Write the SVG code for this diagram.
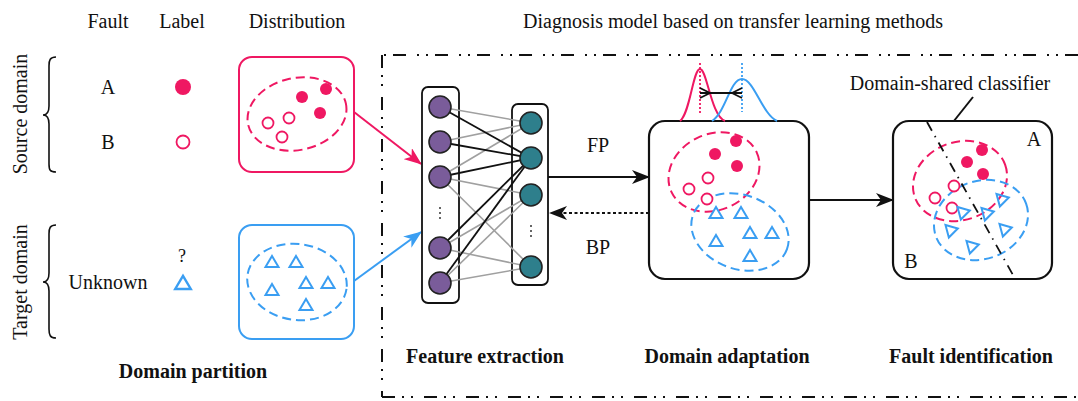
<svg xmlns="http://www.w3.org/2000/svg" width="1078" height="401" viewBox="0 0 1078 401">
<style>
text{font-family:"Liberation Serif","Times New Roman",serif;fill:#111;}
.t{font-size:20px;text-anchor:middle;}
.b{font-size:20px;font-weight:bold;text-anchor:middle;}
.pk{stroke:#ef1862;}
.bl{stroke:#3a9ef2;}
.dash{fill:none;stroke-width:2;stroke-dasharray:9 5;}
.pf{fill:#ef1862;}
.ph{fill:#fff;stroke:#ef1862;stroke-width:1.8;}
.tri{fill:none;stroke:#3a9ef2;stroke-width:2;stroke-linejoin:miter;}
.box{fill:#fff;stroke:#111;stroke-width:2.2;}
.border{fill:none;stroke:#111;stroke-width:2;stroke-dasharray:13 7 2 7 2 11;}
.pu{fill:#7a5c9a;stroke:#222;stroke-width:1.6;}
.te{fill:#2e7f8c;stroke:#222;stroke-width:1.6;}
.gl{stroke:#a0a0a0;stroke-width:1.6;}
.kl{stroke:#111;stroke-width:1.8;}
</style>
<defs>
<marker id="ak" markerUnits="userSpaceOnUse" markerWidth="18" markerHeight="14" refX="17" refY="7" orient="auto"><path d="M0,0 L18,7 L0,14 L5,7 Z" fill="#111"/></marker>
<marker id="ap" markerUnits="userSpaceOnUse" markerWidth="18" markerHeight="14" refX="17" refY="7" orient="auto"><path d="M0,0 L18,7 L0,14 L5,7 Z" fill="#ef1862"/></marker>
<marker id="ab" markerUnits="userSpaceOnUse" markerWidth="18" markerHeight="14" refX="17" refY="7" orient="auto"><path d="M0,0 L18,7 L0,14 L5,7 Z" fill="#3a9ef2"/></marker>
<path id="tr" d="M0,-6 L6.5,5 L-6.5,5 Z"/>
</defs>

<!-- border of model region -->
<g id="model-frame">
<line class="border" x1="1078" y1="55" x2="382" y2="55"/>
<line class="border" x1="382" y1="55" x2="382" y2="397"/>
<line class="border" x1="382" y1="397" x2="1078" y2="397"/>
<text class="t" x="733" y="28">Diagnosis model based on transfer learning methods</text>
</g>

<!-- headers -->
<g id="headers">
<text class="t" x="108" y="28">Fault</text>
<text class="t" x="182" y="28">Label</text>
<text class="t" x="297" y="28">Distribution</text>
</g>

<!-- source domain -->
<g id="source-domain">
<text class="t" transform="translate(27,114) rotate(-90)">Source domain</text>
<path d="M56,57 C50,57 49,60 49,66 L49,106 C49,112 47,115 43,115 C47,115 49,118 49,124 L49,164 C49,170 50,172 56,172" fill="none" stroke="#111" stroke-width="1.6"/>
<text class="t" x="108" y="94">A</text>
<text class="t" x="108" y="149">B</text>
<circle class="pf" cx="183" cy="87" r="8"/>
<circle class="ph" cx="183" cy="142" r="6.5" stroke-width="2"/>
</g>

<g id="source-distribution">
<rect x="239" y="57" width="115" height="115" rx="13" fill="#fff" stroke="#ef1862" stroke-width="2"/>
<ellipse class="dash pk" cx="297" cy="114" rx="50" ry="36" transform="rotate(-12 297 114)"/>
<circle class="pf" cx="302" cy="97" r="6"/>
<circle class="pf" cx="326" cy="89" r="6"/>
<circle class="pf" cx="320" cy="113" r="6"/>
<circle class="ph" cx="268" cy="123" r="5.5"/>
<circle class="ph" cx="289" cy="118" r="5.5"/>
<circle class="ph" cx="282" cy="137" r="5.5"/>
</g>

<!-- target domain -->
<g id="target-domain">
<text class="t" transform="translate(27,282) rotate(-90)">Target domain</text>
<path d="M56,225 C50,225 49,228 49,234 L49,273 C49,279 47,282 43,282 C47,282 49,285 49,291 L49,329 C49,335 50,338 56,338" fill="none" stroke="#111" stroke-width="1.6"/>
<text class="t" x="108" y="289">Unknown</text>
<text class="t" x="182" y="262" style="font-size:18px">?</text>
<use href="#tr" class="tri" transform="translate(183,283) scale(1.2)"/>
</g>

<g id="target-distribution">
<rect x="239" y="225" width="115" height="114" rx="13" fill="#fff" stroke="#3a9ef2" stroke-width="2"/>
<ellipse class="dash bl" cx="297" cy="282" rx="50" ry="38" transform="rotate(8 297 282)"/>
<use href="#tr" class="tri" x="272" y="262"/>
<use href="#tr" class="tri" x="296" y="262"/>
<use href="#tr" class="tri" x="306" y="283"/>
<use href="#tr" class="tri" x="328" y="283"/>
<use href="#tr" class="tri" x="272" y="290"/>
<use href="#tr" class="tri" x="306" y="305"/>
<text class="b" x="193" y="378">Domain partition</text>
</g>

<!-- connectors -->
<g id="connectors">
<line x1="354" y1="112" x2="421" y2="164" stroke="#ef1862" stroke-width="2" marker-end="url(#ap)"/>
<line x1="354" y1="281" x2="421" y2="232" stroke="#3a9ef2" stroke-width="2" marker-end="url(#ab)"/>
<line x1="548" y1="177" x2="649" y2="177" stroke="#111" stroke-width="2" marker-end="url(#ak)"/>
<line x1="649" y1="213" x2="550" y2="213" stroke="#111" stroke-width="2" stroke-dasharray="3 2.5" marker-end="url(#ak)"/>
<line x1="809" y1="200" x2="893" y2="200" stroke="#111" stroke-width="2" marker-end="url(#ak)"/>
<line x1="973" y1="97" x2="938" y2="141" stroke="#111" stroke-width="2" marker-end="url(#ak)"/>
<text class="t" x="598" y="152">FP</text>
<text class="t" x="598" y="254">BP</text>
</g>

<!-- feature extraction network -->
<g id="feature-extraction">
<rect x="422" y="87" width="37" height="216" rx="6" fill="#fff" stroke="#111" stroke-width="1.8"/>
<rect x="512" y="104" width="36" height="181" rx="6" fill="#fff" stroke="#111" stroke-width="1.8"/>
<g class="gl">
<line x1="440" y1="107" x2="531" y2="123"/>
<line x1="440" y1="142" x2="531" y2="123"/>
<line x1="440" y1="177" x2="531" y2="123"/>
<line x1="440" y1="177" x2="531" y2="195"/>
<line x1="440" y1="177" x2="531" y2="267"/>
<line x1="440" y1="248" x2="531" y2="195"/>
<line x1="440" y1="248" x2="531" y2="267"/>
<line x1="440" y1="283" x2="531" y2="195"/>
<line x1="440" y1="283" x2="531" y2="267"/>
</g>
<g class="kl">
<line x1="440" y1="107" x2="531" y2="158"/>
<line x1="440" y1="142" x2="531" y2="158"/>
<line x1="440" y1="177" x2="531" y2="158"/>
<line x1="440" y1="248" x2="531" y2="158"/>
<line x1="440" y1="283" x2="531" y2="158"/>
</g>
<circle class="pu" cx="440" cy="107" r="11"/>
<circle class="pu" cx="440" cy="142" r="11"/>
<circle class="pu" cx="440" cy="177" r="11"/>
<circle class="pu" cx="440" cy="248" r="11"/>
<circle class="pu" cx="440" cy="283" r="11"/>
<circle class="te" cx="531" cy="123" r="11"/>
<circle class="te" cx="531" cy="158" r="11"/>
<circle class="te" cx="531" cy="195" r="11"/>
<circle class="te" cx="531" cy="267" r="11"/>
<g fill="#333">
<circle cx="440" cy="208" r="1"/><circle cx="440" cy="213" r="1"/><circle cx="440" cy="218" r="1"/>
<circle cx="531" cy="226" r="1"/><circle cx="531" cy="231" r="1"/><circle cx="531" cy="236" r="1"/>
</g>
<text class="b" x="485" y="363">Feature extraction</text>
</g>

<!-- domain adaptation -->
<g id="domain-adaptation">
<rect class="box" x="649" y="121" width="160" height="158" rx="16"/>
<path d="M680,121 C690,114 693,69 700,69 C707,69 711,116 725,121" fill="none" stroke="#ef1862" stroke-width="2"/>
<path d="M712,121 C726,112 730,79 742,79 C754,79 762,114 777,121" fill="none" stroke="#3a9ef2" stroke-width="2"/>
<line x1="700" y1="63" x2="700" y2="113" stroke="#ef1862" stroke-width="1.8" stroke-dasharray="2 2"/>
<line x1="742" y1="63" x2="742" y2="112" stroke="#3a9ef2" stroke-width="1.8" stroke-dasharray="2 2"/>
<line x1="700" y1="93" x2="742" y2="93" stroke="#111" stroke-width="1.8"/>
<path d="M700,88 L710,93 L700,98 M742,88 L732,93 L742,98" fill="none" stroke="#111" stroke-width="1.8"/>
<ellipse class="dash pk" cx="714" cy="172" rx="47" ry="38" transform="rotate(-25 714 172)"/>
<ellipse class="dash bl" cx="740" cy="232" rx="50" ry="37" transform="rotate(20 740 232)"/>
<circle class="pf" cx="736" cy="141" r="6"/>
<circle class="pf" cx="715" cy="154" r="6"/>
<circle class="pf" cx="737" cy="166" r="6"/>
<circle class="ph" cx="708" cy="178" r="5.5"/>
<circle class="ph" cx="689" cy="189" r="5.5"/>
<circle class="ph" cx="707" cy="199" r="5.5"/>
<use href="#tr" class="tri" x="716" y="213"/>
<use href="#tr" class="tri" x="741" y="213"/>
<use href="#tr" class="tri" x="750" y="233"/>
<use href="#tr" class="tri" x="772" y="233"/>
<use href="#tr" class="tri" x="716" y="241"/>
<use href="#tr" class="tri" x="750" y="256"/>
<text class="b" x="727" y="363">Domain adaptation</text>
</g>

<!-- fault identification -->
<g id="fault-identification">
<rect class="box" x="893" y="121" width="159" height="158" rx="16"/>
<text class="t" x="950" y="90">Domain-shared classifier</text>
<ellipse class="dash pk" cx="960" cy="181" rx="48" ry="39" transform="rotate(-20 960 181)"/>
<ellipse class="dash bl" cx="981" cy="220" rx="48" ry="39" transform="rotate(-20 981 220)"/>
<circle class="pf" cx="982" cy="150" r="6"/>
<circle class="pf" cx="967" cy="162" r="6"/>
<circle class="pf" cx="983" cy="174" r="6"/>
<circle class="ph" cx="954" cy="186" r="5.5"/>
<circle class="ph" cx="935" cy="198" r="5.5"/>
<circle class="ph" cx="952" cy="208" r="5.5"/>
<use href="#tr" class="tri" transform="translate(964,212) rotate(75)"/>
<use href="#tr" class="tri" transform="translate(988,213) rotate(75)"/>
<use href="#tr" class="tri" transform="translate(1003,199) rotate(75)"/>
<use href="#tr" class="tri" transform="translate(952,230) rotate(75)"/>
<use href="#tr" class="tri" transform="translate(1006,229) rotate(75)"/>
<use href="#tr" class="tri" transform="translate(973,246) rotate(75)"/>
<line x1="927" y1="122" x2="1013" y2="275" stroke="#111" stroke-width="1.8" stroke-dasharray="10 6 1.5 6"/>
<text class="t" x="1034" y="146">A</text>
<text class="t" x="911" y="268">B</text>
<text class="b" x="971" y="363">Fault identification</text>
</g>
</svg>
